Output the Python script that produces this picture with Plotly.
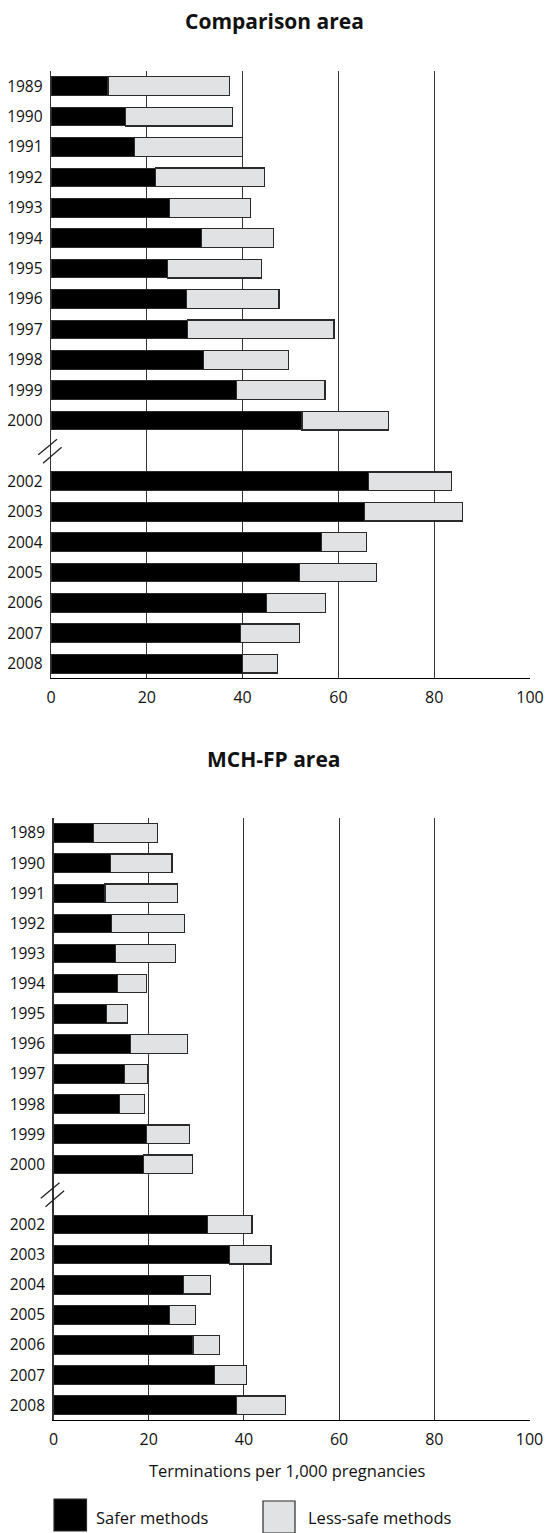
import plotly.graph_objects as go

# ---------------- data ----------------
years = [1989, 1990, 1991, 1992, 1993, 1994, 1995, 1996, 1997, 1998, 1999, 2000,
         2002, 2003, 2004, 2005, 2006, 2007, 2008]
year_labels = [str(y) for y in years]
x_ticks = [0, 20, 40, 60, 80, 100]

comp_safer = [11.9, 15.6, 17.5, 21.8, 24.8, 31.5, 24.3, 28.3, 28.5, 31.8, 38.8, 52.4,
              66.3, 65.5, 56.4, 51.9, 45.0, 39.6, 40.0]
comp_less = [25.4, 22.3, 22.4, 22.8, 16.9, 15.0, 19.6, 19.3, 30.6, 17.7, 18.4, 18.0,
             17.3, 20.4, 9.5, 16.0, 12.3, 12.3, 7.3]

mch_safer = [8.4, 12.0, 10.8, 12.2, 13.1, 13.4, 11.1, 16.2, 14.9, 13.9, 19.6, 18.9,
             32.4, 36.9, 27.3, 24.4, 29.3, 33.9, 38.4]
mch_less = [13.4, 12.9, 15.2, 15.4, 12.6, 6.2, 4.4, 11.9, 4.8, 5.3, 8.9, 10.3,
            9.3, 8.8, 5.7, 5.4, 5.6, 6.6, 10.3]

titles = ["Comparison area", "MCH-FP area"]
series_names = ["Safer methods", "Less-safe methods"]
x_title = "Terminations per 1,000 pregnancies"
break_year = 2001

# ---------------- style ----------------
W, H = 547, 1533
FONT = "Open Sans"
BLACK = "#000000"
GREY = "#e1e2e3"
EDGE = "#2a2a2a"

def py(px):  # page pixel (from top) -> paper fraction
    return 1 - px / H

def pxf(px):  # page pixel (from left) -> paper fraction
    return px / W

fig = go.Figure()

panels = [
    dict(safer=comp_safer, less=comp_less, xa="x", ya="y",
         xdom=[pxf(51), pxf(530)], ydom=[py(678), py(71)],
         yrange=[2008.47, 1988.5], title_y=21),
    dict(safer=mch_safer, less=mch_less, xa="x2", ya="y2",
         xdom=[pxf(53.5), pxf(529.5)], ydom=[py(1420), py(818.3)],
         yrange=[2008.49, 1988.51], title_y=759),
]

for i, p in enumerate(panels):
    fig.add_trace(go.Bar(
        y=years, x=p["safer"], orientation="h", name=series_names[0],
        marker=dict(color=BLACK, line=dict(color=EDGE, width=1)),
        xaxis=p["xa"], yaxis=p["ya"], showlegend=False))
    fig.add_trace(go.Bar(
        y=years, x=p["less"], orientation="h", name=series_names[1],
        marker=dict(color=GREY, line=dict(color=EDGE, width=1.2)),
        xaxis=p["xa"], yaxis=p["ya"], showlegend=False))

    suffix = "" if i == 0 else "2"
    fig.layout["xaxis" + suffix] = dict(
        domain=p["xdom"], range=[0, 100], anchor=p["ya"], automargin=False,
        tickvals=x_ticks, ticktext=[str(v) for v in x_ticks],
        showgrid=True, gridcolor="#333333", gridwidth=1,
        showline=True, linecolor=BLACK, linewidth=1.3,
        zeroline=False, ticks="", ticklabelstandoff=4,
        tickfont=dict(family=FONT, size=16, color="#111"),
        fixedrange=True)
    fig.layout["yaxis" + suffix] = dict(
        domain=p["ydom"], range=p["yrange"], anchor=p["xa"], automargin=False,
        tickvals=years, ticktext=year_labels,
        showgrid=False, zeroline=False,
        showline=True, linecolor="#333333", linewidth=1.3,
        ticks="", ticklabelstandoff=4,
        tickfont=dict(family=FONT, size=15.5, color="#111"),
        fixedrange=True)

    # panel title
    fig.add_annotation(text="<b>" + titles[i] + "</b>", xref="paper", yref="paper",
                       x=pxf(274), y=py(p["title_y"]), xanchor="center", yanchor="middle",
                       showarrow=False, font=dict(family=FONT, size=21, color="#111"))

    # axis break marks (//) crossing the y axis at the missing year
    # (paper-referenced so they are not clipped by the plot area)
    y0d, y1d = p["ydom"]
    r_bottom, r_top = p["yrange"]
    brk_paper = y0d + (y1d - y0d) * (break_year - r_bottom) / (r_top - r_bottom)
    for (x0, y0, x1, y1) in [(-12.7, -3.9, 6.0, 11.8), (-8.0, -12.2, 10.6, 3.8)]:
        fig.add_shape(type="line", xref="paper", yref="paper",
                      xsizemode="pixel", ysizemode="pixel",
                      xanchor=p["xdom"][0], yanchor=brk_paper,
                      x0=x0, y0=y0, x1=x1, y1=y1,
                      line=dict(color="#222", width=1.3))

# x axis title (bottom panel)
fig.add_annotation(text=x_title, xref="paper", yref="paper",
                   x=pxf(287), y=py(1470), xanchor="center", yanchor="middle",
                   showarrow=False, font=dict(family=FONT, size=16.5, color="#111"))

# legend drawn as boxes + labels
legend_items = [
    dict(fill=BLACK, box=(54, 1499, 86.5, 1531), tx=94, label=series_names[0]),
    dict(fill=GREY, box=(263, 1501, 295, 1533), tx=306, label=series_names[1]),
]
for it in legend_items:
    bx0, by0, bx1, by1 = it["box"]
    fig.add_shape(type="rect", xref="paper", yref="paper",
                  x0=pxf(bx0), x1=pxf(bx1), y0=py(by1), y1=py(by0),
                  fillcolor=it["fill"], line=dict(color=EDGE, width=1.2))
    fig.add_annotation(text=it["label"], xref="paper", yref="paper",
                       x=pxf(it["tx"]), y=py(1517), xanchor="left", yanchor="middle",
                       showarrow=False, font=dict(family=FONT, size=16.5, color="#111"))

fig.update_layout(
    width=W, height=H, barmode="stack", bargap=0.385,
    margin=dict(l=0, r=0, t=0, b=0),
    paper_bgcolor="white", plot_bgcolor="white",
    font=dict(family=FONT, size=16, color="#111"),
    showlegend=False,
)

# remove the browser's default 8px body margin so the figure fills the window exactly
fig.write_html("out.html",
               config={"displayModeBar": False, "staticPlot": True},
               post_script="document.body.style.margin='0';document.body.style.overflow='hidden';")
